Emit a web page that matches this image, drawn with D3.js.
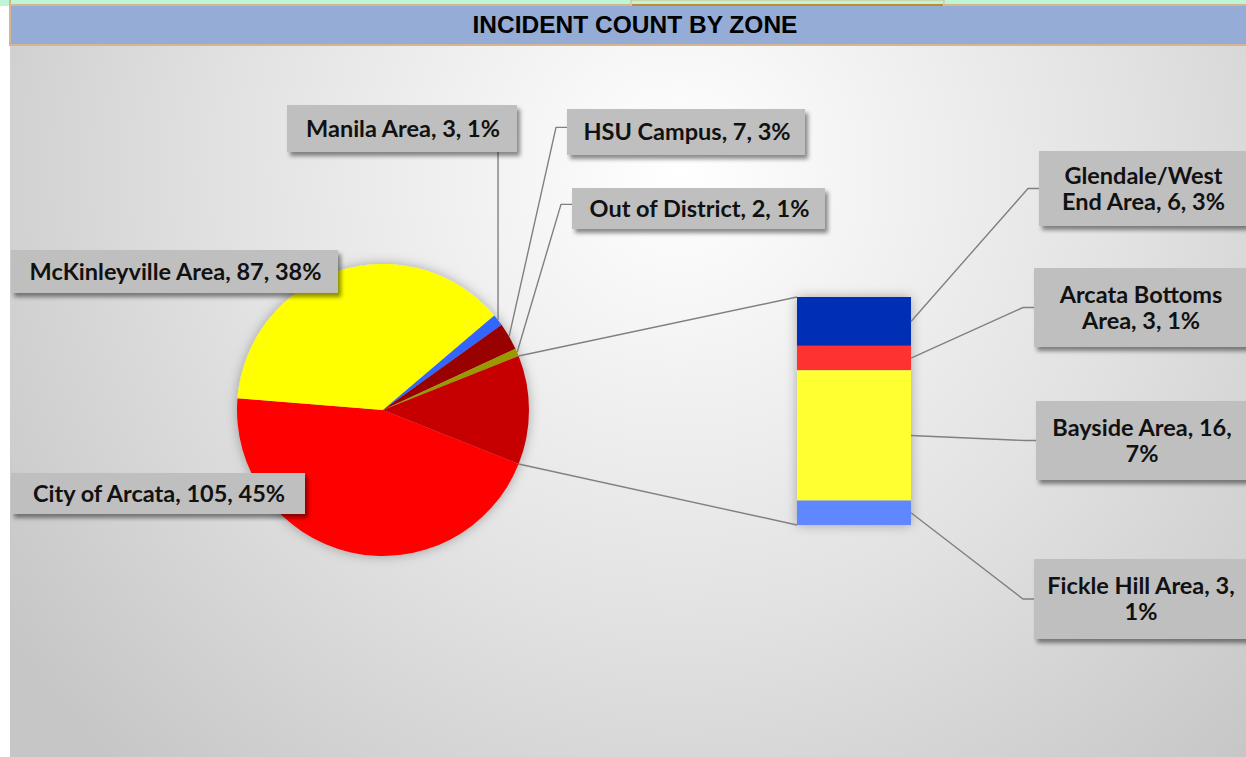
<!DOCTYPE html>
<html>
<head>
<meta charset="utf-8">
<script src="https://cdn.jsdelivr.net/npm/d3@7"></script>
<style>
  body { margin: 0; background: #fff; }
  svg { display: block; }
</style>
</head>
<body>
<div id="chart"></div>
<script>
// datos
var pieLabels = ["City of Arcata", "McKinleyville Area", "Manila Area", "HSU Campus", "Out of District"];
var pieValues = [105, 87, 3, 7, 2];
var barLabels = ["Glendale/West End Area", "Arcata Bottoms Area", "Bayside Area", "Fickle Hill Area"];
var barValues = [6, 3, 16, 3];
var pieColors = ["#ff0000", "#ffff00", "#3366ff", "#990000", "#999900", "#c60000"];
var barColors = ["#002fb4", "#ff3333", "#ffff33", "#5f87ff"];

var W = 1246, H = 757;
var otherTotal = d3.sum(barValues);
var total = d3.sum(pieValues) + otherTotal;
function pct(v) { return Math.round(v / total * 100) + "%"; }

var svg = d3.select("#chart").append("svg")
  .attr("width", W).attr("height", H)
  .style("font-family", "Lato, 'Liberation Sans', sans-serif");

var defs = svg.append("defs");
var grad = defs.append("radialGradient").attr("id", "bg")
  .attr("gradientUnits", "userSpaceOnUse")
  .attr("cx", 680).attr("cy", 170).attr("r", 820);
grad.append("stop").attr("offset", "0").attr("stop-color", "#ffffff");
grad.append("stop").attr("offset", "0.55").attr("stop-color", "#e2e2e2");
grad.append("stop").attr("offset", "1").attr("stop-color", "#c6c6c6");

var sh = defs.append("filter").attr("id", "boxShadow")
  .attr("x", "-10%").attr("y", "-20%").attr("width", "130%").attr("height", "160%");
sh.append("feDropShadow").attr("dx", 3).attr("dy", 4).attr("stdDeviation", 2)
  .attr("flood-color", "#000").attr("flood-opacity", 0.45);

var glow = defs.append("filter").attr("id", "glow")
  .attr("x", "-30%").attr("y", "-30%").attr("width", "160%").attr("height", "160%");
glow.append("feDropShadow").attr("dx", 0).attr("dy", 0).attr("stdDeviation", 6)
  .attr("flood-color", "#000").attr("flood-opacity", 0.3);

// barra superior
svg.append("rect").attr("x", 0).attr("y", 0).attr("width", W).attr("height", 6).attr("fill", "#bdf6d5");
svg.append("rect").attr("x", 10).attr("y", 4).attr("width", W - 10).attr("height", 2).attr("fill", "#d6b68e");
svg.append("rect").attr("x", 631).attr("y", 0).attr("width", 313).attr("height", 6)
  .attr("fill", "#bdf6d5").attr("stroke", "#d6b68e").attr("stroke-width", 1);
svg.append("rect").attr("x", 632).attr("y", 4).attr("width", 311).attr("height", 2.5).attr("fill", "#bf8b2b");

// titulo
svg.append("rect").attr("x", 10).attr("y", 6).attr("width", W - 10).attr("height", 38).attr("fill", "#95acd6");
svg.append("rect").attr("x", 10).attr("y", 44).attr("width", W - 10).attr("height", 2).attr("fill", "#d6b68e");
svg.append("rect").attr("x", 9).attr("y", 0).attr("width", 2).attr("height", 46).attr("fill", "#d6b68e");
svg.append("text").attr("x", 635).attr("y", 33)
  .attr("text-anchor", "middle")
  .style("font-family", "'Liberation Sans', Arial, sans-serif")
  .style("font-weight", "bold").style("font-size", "24.5px").attr("fill", "#000")
  .text("INCIDENT COUNT BY ZONE");

// fondo
svg.append("rect").attr("x", 10).attr("y", 46).attr("width", W - 10).attr("height", H - 46)
  .attr("fill", "url(#bg)");

// pastel
var cx = 383, cy = 410, r = 146;
var allValues = pieValues.concat([otherTotal]);
var otherFrac = otherTotal / total;
var start = Math.PI / 2 + otherFrac * Math.PI;
var pie = d3.pie().sort(null).startAngle(start).endAngle(start + 2 * Math.PI);
var arcs = pie(allValues);
var arc = d3.arc().innerRadius(0).outerRadius(r);

var gPie = svg.append("g").attr("transform", "translate(" + cx + "," + cy + ")");
gPie.append("g").attr("filter", "url(#glow)")
  .selectAll("path").data(arcs).enter().append("path")
  .attr("d", arc)
  .attr("fill", function(d, i) { return pieColors[i]; });

function edgePoint(a) { return [cx + r * Math.sin(a), cy - r * Math.cos(a)]; }

// barra de "otros"
var bx = 797, bw = 114, byTop = 297, byBot = 525;
var y = d3.scaleLinear().domain([0, otherTotal]).range([byTop, byBot]);
var cum = [0];
barValues.forEach(function(v, i) { cum.push(cum[i] + v); });

var gBar = svg.append("g").attr("filter", "url(#glow)");
gBar.selectAll("rect").data(barValues).enter().append("rect")
  .attr("x", bx).attr("width", bw)
  .attr("y", function(d, i) { return y(cum[i]); })
  .attr("height", function(d) { return y(d) - y(0); })
  .attr("fill", function(d, i) { return barColors[i]; });

// lineas de conexion
var otherArc = arcs[arcs.length - 1];
var p1 = edgePoint(otherArc.startAngle), p2 = edgePoint(otherArc.endAngle);
var lineCol = "#808080";
svg.append("line").attr("x1", p1[0]).attr("y1", p1[1]).attr("x2", bx).attr("y2", byTop)
  .attr("stroke", lineCol).attr("stroke-width", 1.4);
svg.append("line").attr("x1", p2[0]).attr("y1", p2[1]).attr("x2", bx).attr("y2", byBot)
  .attr("stroke", lineCol).attr("stroke-width", 1.4);

// etiquetas
var pieBoxes = [
  {x: 11, y: 473, w: 294, h: 41, leader: null},
  {x: 11, y: 250, w: 327, h: 43, leader: null},
  {x: 287, y: 105, w: 230, h: 47, leader: "bottom"},
  {x: 567, y: 109, w: 238, h: 46, leader: "left"},
  {x: 572, y: 188, w: 253, h: 41, leader: "left"}
];
var barBoxes = [
  {x: 1039, y: 151, w: 212, h: 75},
  {x: 1034, y: 268, w: 218, h: 79},
  {x: 1036, y: 401, w: 216, h: 79},
  {x: 1034, y: 559, w: 218, h: 80}
];

var lineGen = d3.line();
var labelFont = 23.5, lineH = 26;

function drawLabel(box, lines) {
  var g = svg.append("g");
  g.append("rect").attr("x", box.x).attr("y", box.y).attr("width", box.w).attr("height", box.h)
    .attr("fill", "#bfbfbf").attr("filter", "url(#boxShadow)");
  var t = g.append("text").attr("text-anchor", "middle")
    .style("font-weight", "bold").style("font-size", labelFont + "px").attr("fill", "#111");
  var mid = box.y + box.h / 2;
  var first = mid - (lines.length - 1) * lineH / 2;
  lines.forEach(function(s, k) {
    t.append("tspan").attr("x", box.x + Math.min(box.w, W - box.x) / 2 + 1)
      .attr("y", first + k * lineH + 8).text(s);
  });
}

function wrap(s, maxW) {
  var tmp = svg.append("text").style("font-weight", "bold").style("font-size", labelFont + "px");
  var words = s.split(" "), lines = [], cur = "";
  words.forEach(function(wd) {
    var test = cur ? cur + " " + wd : wd;
    tmp.text(test);
    if (tmp.node().getComputedTextLength() > maxW && cur) { lines.push(cur); cur = wd; }
    else cur = test;
  });
  lines.push(cur);
  tmp.remove();
  return lines;
}

pieLabels.forEach(function(name, i) {
  var box = pieBoxes[i];
  var a = arcs[i];
  var p = edgePoint((a.startAngle + a.endAngle) / 2);
  if (box.leader === "bottom") {
    svg.append("path").attr("d", lineGen([p, [p[0], box.y + box.h]]))
      .attr("fill", "none").attr("stroke", lineCol).attr("stroke-width", 1.4);
  } else if (box.leader === "left") {
    var ly = box.y + box.h * 0.4;
    svg.append("path").attr("d", lineGen([p, [box.x - 11, ly], [box.x, ly]]))
      .attr("fill", "none").attr("stroke", lineCol).attr("stroke-width", 1.4);
  }
  drawLabel(box, [name + ", " + pieValues[i] + ", " + pct(pieValues[i])]);
});

barLabels.forEach(function(name, i) {
  var box = barBoxes[i];
  var p = [bx + bw, (y(cum[i]) + y(cum[i + 1])) / 2];
  var ly = box.y + box.h / 2;
  svg.append("path").attr("d", lineGen([p, [box.x - 11, ly], [box.x, ly]]))
    .attr("fill", "none").attr("stroke", lineCol).attr("stroke-width", 1.4);
  var txt = name + ", " + barValues[i] + ", " + pct(barValues[i]);
  drawLabel(box, wrap(txt, 200));
});
</script>
</body>
</html>
